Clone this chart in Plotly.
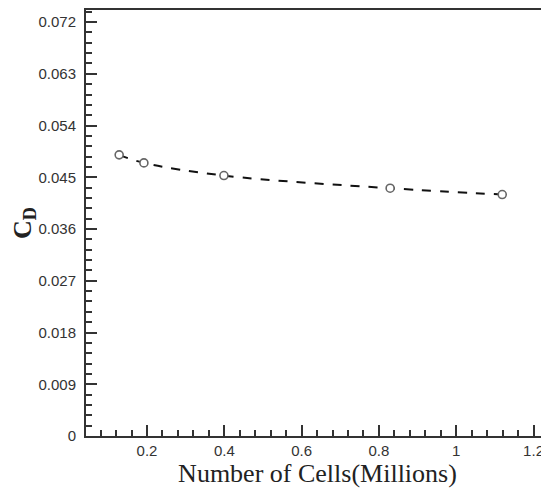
import plotly.graph_objects as go

cells_millions = [0.128, 0.192, 0.399, 0.829, 1.119]
cd_values = [0.0489, 0.0475, 0.0453, 0.0431, 0.0420]

fig = go.Figure()
fig.add_trace(go.Scatter(
    x=cells_millions, y=cd_values,
    mode="lines+markers",
    line=dict(color="#111111", width=2, dash="dash", shape="spline"),
    marker=dict(symbol="circle", size=8, color="white", line=dict(width=1.6, color="#666666")),
    showlegend=False,
))

axis_font = dict(family="Liberation Sans, Arial", size=15, color="#333333")

fig.update_layout(
    width=541, height=482,
    margin=dict(l=78, r=0, t=2, b=54),
    paper_bgcolor="white", plot_bgcolor="white",
    xaxis=dict(
        range=[0.0422, 1.240],
        tick0=0, dtick=0.2,
        ticks="inside", ticklen=11, tickwidth=2, tickcolor="#333333",
        minor=dict(ticks="inside", ticklen=6, tickwidth=1.5, tickcolor="#333333", dtick=0.04, tick0=0, showgrid=False),
        showline=True, linewidth=2, linecolor="#333333", mirror=True,
        showgrid=False, zeroline=False, automargin=False,
        ticklabeloverflow="allow",
        tickfont=axis_font,
        title=dict(text="Number of Cells(Millions)", font=dict(family="Liberation Serif, Times New Roman", size=26, color="#222222"), standoff=0),
    ),
    yaxis=dict(
        range=[0, 0.0741],
        tickvals=[0, 0.009, 0.018, 0.027, 0.036, 0.045, 0.054, 0.063, 0.072],
        ticktext=["0", "0.009", "0.018", "0.027", "0.036", "0.045", "0.054", "0.063", "0.072"],
        ticks="inside", ticklen=11, tickwidth=2, tickcolor="#333333",
        ticklabelstandoff=5,
        minor=dict(ticks="inside", ticklen=6, tickwidth=1.5, tickcolor="#333333", dtick=0.0018, tick0=0, showgrid=False),
        showline=True, linewidth=2, linecolor="#333333", mirror=False,
        showgrid=False, zeroline=False, automargin=False,
        tickfont=axis_font,
        title=dict(text="<b>C<sub>D</sub></b>", font=dict(family="Liberation Serif, Times New Roman", size=26, color="#222222"), standoff=4),
    ),
)

fig.write_html("out.html")
